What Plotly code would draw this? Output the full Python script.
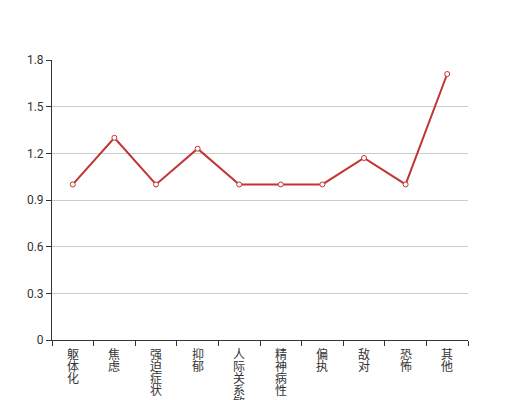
import plotly.graph_objects as go

categories = ["躯体化", "焦虑", "强迫症状", "抑郁", "人际关系敏感", "精神病性", "偏执", "敌对", "恐怖", "其他"]
values = [1.0, 1.3, 1.0, 1.23, 1.0, 1.0, 1.0, 1.17, 1.0, 1.71]
y_ticks = [0, 0.3, 0.6, 0.9, 1.2, 1.5, 1.8]
y_tick_labels = ["0", "0.3", "0.6", "0.9", "1.2", "1.5", "1.8"]

fig = go.Figure()
fig.add_trace(go.Scatter(
    x=categories, y=values, mode="lines+markers",
    line=dict(color="#c23531", width=2),
    marker=dict(size=5, color="white", line=dict(color="#c23531", width=1)),
    showlegend=False,
))

# vertical (stacked) category labels, one character per line with 12px spacing
annotations = []
for cat in categories:
    for j, ch in enumerate(cat):
        annotations.append(dict(
            x=cat, xref="x", y=0, yref="y", yanchor="top", xanchor="center",
            yshift=-(4 + 12 * j), text=ch, showarrow=False,
            font=dict(size=12, color="#333", family="Noto Sans CJK SC, sans-serif"),
            borderpad=0,
        ))

# page body has an 8px margin: compensate so the plot area lands where the reference has it
fig.update_layout(
    width=520, height=400,
    margin=dict(l=44, r=60, t=52, b=68),
    paper_bgcolor="white", plot_bgcolor="white",
    font=dict(family="Noto Sans CJK SC, sans-serif", size=12, color="#333"),
    annotations=annotations,
    xaxis=dict(
        type="category", showticklabels=False,
        tickson="boundaries", ticks="outside", ticklen=5, tickcolor="#333",
        showline=True, linecolor="#333", linewidth=1, showgrid=False,
        automargin=False,
        range=[-0.5, len(categories) - 0.5],
    ),
    yaxis=dict(
        range=[0, 1.8], tickmode="array", tickvals=y_ticks, ticktext=y_tick_labels,
        ticks="outside", ticklen=5, tickcolor="#333",
        showline=True, linecolor="#333", linewidth=1,
        showgrid=True, gridcolor="#ccc", gridwidth=1, zeroline=False,
        automargin=False, tickfont=dict(size=12, color="#333", family="Roboto, sans-serif"),
    ),
)

fig.write_html("out.html")
